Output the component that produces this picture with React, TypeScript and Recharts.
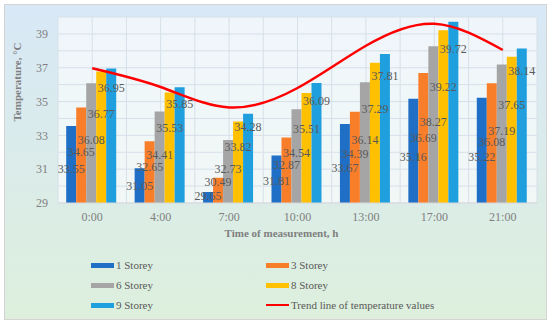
import React from 'react';
import {
  ComposedChart,
  Bar,
  Line,
  XAxis,
  YAxis,
  CartesianGrid,
  Legend,
} from 'recharts';

// time of measurement
const times = ['0:00', '4:00', '7:00', '10:00', '13:00', '17:00', '21:00'];

// temperature per storey, °C
const storey1 = [33.55, 31.05, 29.65, 31.81, 33.67, 35.16, 35.22];
const storey3 = [34.65, 32.65, 30.49, 32.87, 34.39, 36.69, 36.08];
const storey6 = [36.08, 34.41, 32.73, 34.54, 36.14, 38.27, 37.19];
const storey8 = [36.77, 35.53, 33.82, 35.51, 37.29, 39.22, 37.65];
const storey9 = [36.95, 35.85, 34.28, 36.09, 37.81, 39.72, 38.14];

// trend line at each time
const trend = [36.97, 35.86, 34.65, 35.8, 38.3, 39.6, 38.05];

const yTicks = [29, 31, 33, 35, 37, 39];

const SERIES = [
  { key: 's1', name: '1 Storey', color: '#1f6fc6', values: storey1 },
  { key: 's3', name: '3 Storey', color: '#f97e2a', values: storey3 },
  { key: 's6', name: '6 Storey', color: '#a5a5a5', values: storey6 },
  { key: 's8', name: '8 Storey', color: '#ffc000', values: storey8 },
  { key: 's9', name: '9 Storey', color: '#209fde', values: storey9 },
];
const TREND_NAME = 'Trend line of temperature values';

// data labels sit below the bar top, drifting with the value (as in the source)
const LABEL_DRIFT = [
  [10, -3],
  [9.7, -10],
  [8.5, -3],
  [5.7, -1.5],
  [2.5, 0],
];

const FONT = '"Liberation Serif", "Times New Roman", serif';

const data = times.map((t, i) => {
  const row: Record<string, string | number> = { time: t, trend: trend[i] };
  SERIES.forEach(s => {
    row[s.key] = s.values[i];
  });
  return row;
});

const makeLabel = (idx: number) => (props: any) => {
  const { x, y, width, value } = props;
  const [k, b] = LABEL_DRIFT[idx];
  const cy = Number(y) + k * (Number(value) - 29) + b;
  return (
    <text
      x={Number(x) + Number(width) / 2}
      y={cy}
      dy={4}
      textAnchor="middle"
      fontFamily={FONT}
      fontSize={12}
      fill="#595959"
    >
      {Number(value).toFixed(2)}
    </text>
  );
};

const LegendBox = () => {
  const items: { name: string; color: string; line?: boolean }[] = [
    ...SERIES.map(s => ({ name: s.name, color: s.color })),
    { name: TREND_NAME, color: '#ff0000', line: true },
  ];
  return (
    <div
      style={{
        display: 'grid',
        gridTemplateColumns: '175px 200px',
        rowGap: 6,
        fontFamily: FONT,
        fontSize: 11,
        color: '#595959',
      }}
    >
      {items.map(it => (
        <div key={it.name} style={{ display: 'flex', alignItems: 'center', height: 14 }}>
          <span
            style={{
              display: 'inline-block',
              width: 23,
              height: it.line ? 2 : 5,
              background: it.color,
              marginRight: 2,
            }}
          />
          <span>{it.name}</span>
        </div>
      ))}
    </div>
  );
};

export default function App() {
  return (
    <div style={{ position: 'absolute', left: 0, top: 0, width: 550, height: 324 }}>
      <div
        style={{
          position: 'absolute',
          left: 4,
          top: 4,
          width: 541,
          height: 314,
          border: '1px solid #d4d4d4',
          background: 'linear-gradient(to bottom, #d8e8f6 0%, #dbece9 55%, #ddefdc 100%)',
        }}
      />
      <ComposedChart
        width={550}
        height={324}
        data={data}
        margin={{ top: 17, right: 13, left: 0, bottom: 81 }}
        barCategoryGap="12%"
        barGap={0}
        style={{ position: 'absolute', left: 0, top: 0 }}
      >
        <CartesianGrid
          fill="#ffffff"
          fillOpacity={0.6}
          stroke="#d6e0e9"
          verticalCoordinatesGenerator={({ offset }: any) =>
            Array.from({ length: 15 }, (_, i) => offset.left + (i * offset.width) / 14)
          }
          horizontalCoordinatesGenerator={({ offset }: any) =>
            Array.from({ length: 12 }, (_, i) => offset.top + (i * offset.height) / 11)
          }
        />
        <XAxis
          dataKey="time"
          height={40}
          tickSize={0}
          tickMargin={9}
          axisLine={{ stroke: '#d9d9d9' }}
          tick={{ fontFamily: FONT, fontSize: 12, fill: '#7f7f7f' }}
          label={({ viewBox }: any) => (
            <text
              x={viewBox.x + viewBox.width / 2 - 16}
              y={viewBox.y + 34}
              textAnchor="middle"
              fontFamily={FONT}
              fontSize={11}
              fontWeight="bold"
              fill="#7f7f7f"
            >
              Time of measurement, h
            </text>
          )}
        />
        <YAxis
          width={58}
          domain={[29, 40]}
          ticks={yTicks}
          allowDataOverflow
          axisLine={false}
          tickLine={false}
          tickSize={0}
          tickMargin={10}
          tick={{ fontFamily: FONT, fontSize: 12, fill: '#7f7f7f' }}
          label={({ viewBox }: any) => {
            const lx = 21;
            const ly = viewBox.y + viewBox.height / 2 - 28;
            return (
              <text
                x={lx}
                y={ly}
                transform={`rotate(-90, ${lx}, ${ly})`}
                textAnchor="middle"
                fontFamily={FONT}
                fontSize={11}
                fontWeight="bold"
                fill="#7f7f7f"
              >
                Temperature, °C
              </text>
            );
          }}
        />
        {SERIES.map((s, i) => (
          <Bar
            key={s.key}
            dataKey={s.key}
            name={s.name}
            fill={s.color}
            isAnimationActive={false}
            label={makeLabel(i)}
          />
        ))}
        <Line
          dataKey="trend"
          name={TREND_NAME}
          type="natural"
          stroke="#ff0000"
          strokeWidth={2.5}
          dot={false}
          activeDot={false}
          isAnimationActive={false}
        />
        <Legend
          layout="horizontal"
          verticalAlign="middle"
          align="center"
          wrapperStyle={{ top: 258, left: 91, width: 380, height: 60 }}
          content={() => <LegendBox />}
        />
      </ComposedChart>
    </div>
  );
}
